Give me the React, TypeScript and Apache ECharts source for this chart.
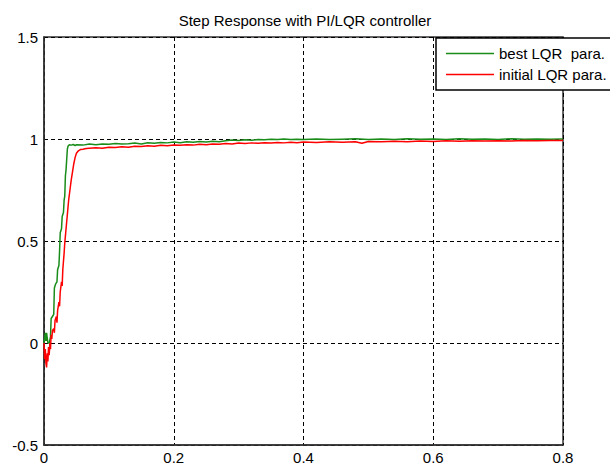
import React, { useEffect, useRef } from "react";
import * as echarts from "echarts";

const titleText = "Step Response with PI/LQR controller";
const seriesNames = ["best LQR  para.", "initial LQR para."];
const xTicks = { min: 0, max: 0.8, interval: 0.2 };
const yTicks = { min: -0.5, max: 1.5, interval: 0.5 };

// best LQR parameters (green): [time, output]
const bestLQR: [number, number][] = [
  [0, 0], [0.001, 0.0], [0.002, 0.05], [0.003, 0.01], [0.004, 0.05], [0.006, 0.0],
  [0.008, 0.0], [0.01, 0.03], [0.011, 0.12], [0.013, 0.13], [0.015, 0.14],
  [0.016, 0.27], [0.018, 0.29], [0.02, 0.3], [0.021, 0.36], [0.023, 0.38],
  [0.024, 0.45], [0.025, 0.54], [0.027, 0.56], [0.028, 0.62], [0.03, 0.64],
  [0.031, 0.7], [0.032, 0.72], [0.033, 0.82], [0.034, 0.85], [0.035, 0.9],
  [0.036, 0.95], [0.037, 0.965], [0.039, 0.972], [0.042, 0.97], [0.045, 0.973],
  [0.048, 0.968], [0.05, 0.972], [0.06, 0.97], [0.07, 0.975], [0.08, 0.972],
  [0.09, 0.976], [0.1, 0.974], [0.11, 0.978], [0.12, 0.975], [0.13, 0.977],
  [0.14, 0.98], [0.15, 0.976], [0.16, 0.982], [0.17, 0.979], [0.18, 0.983],
  [0.19, 0.981], [0.2, 0.985], [0.21, 0.982], [0.22, 0.986], [0.23, 0.984],
  [0.24, 0.988], [0.25, 0.985], [0.26, 0.989], [0.27, 0.987], [0.28, 0.991],
  [0.29, 0.995], [0.3, 0.993], [0.31, 0.996], [0.32, 0.994], [0.33, 0.998],
  [0.34, 0.996], [0.35, 0.999], [0.36, 0.997], [0.37, 1.0], [0.38, 0.997],
  [0.39, 0.999], [0.4, 0.998], [0.42, 1.0], [0.44, 0.997], [0.46, 0.999],
  [0.48, 1.001], [0.5, 0.998], [0.52, 1.0], [0.54, 0.998], [0.56, 1.001],
  [0.58, 0.999], [0.6, 1.0], [0.62, 0.998], [0.64, 1.001], [0.66, 0.999],
  [0.68, 1.0], [0.7, 0.998], [0.72, 1.001], [0.74, 0.999], [0.76, 1.0],
  [0.78, 0.999], [0.8, 1.0],
];

// initial LQR parameters (red): [time, output]
const initialLQR: [number, number][] = [
  [0, 0], [0.001, -0.08], [0.002, -0.03], [0.003, -0.1], [0.004, -0.12],
  [0.005, -0.05], [0.006, -0.09], [0.007, -0.02], [0.008, -0.06], [0.009, 0.0],
  [0.01, -0.03], [0.011, 0.04], [0.012, 0.02], [0.013, 0.06], [0.015, 0.07],
  [0.016, 0.05], [0.017, 0.11], [0.019, 0.13], [0.02, 0.1], [0.021, 0.16],
  [0.023, 0.2], [0.024, 0.18], [0.025, 0.25], [0.027, 0.3], [0.028, 0.28],
  [0.029, 0.36], [0.031, 0.44], [0.032, 0.49], [0.034, 0.56], [0.036, 0.63],
  [0.038, 0.7], [0.04, 0.75], [0.042, 0.8], [0.044, 0.84], [0.046, 0.88],
  [0.048, 0.91], [0.05, 0.93], [0.053, 0.942], [0.056, 0.948], [0.06, 0.95],
  [0.065, 0.953], [0.07, 0.955], [0.08, 0.957], [0.09, 0.955], [0.1, 0.96],
  [0.11, 0.958], [0.12, 0.962], [0.13, 0.96], [0.14, 0.965], [0.15, 0.963],
  [0.16, 0.967], [0.17, 0.965], [0.18, 0.969], [0.19, 0.967], [0.2, 0.971],
  [0.21, 0.969], [0.22, 0.972], [0.23, 0.97], [0.24, 0.974], [0.25, 0.972],
  [0.26, 0.976], [0.27, 0.974], [0.28, 0.978], [0.29, 0.976], [0.3, 0.98],
  [0.31, 0.978], [0.32, 0.981], [0.33, 0.979], [0.34, 0.982], [0.35, 0.98],
  [0.36, 0.983], [0.37, 0.981], [0.38, 0.984], [0.39, 0.982], [0.4, 0.985],
  [0.42, 0.983], [0.44, 0.986], [0.46, 0.984], [0.48, 0.987], [0.49, 0.979],
  [0.5, 0.988], [0.52, 0.986], [0.54, 0.989], [0.56, 0.987], [0.58, 0.99],
  [0.6, 0.988], [0.62, 0.991], [0.64, 0.989], [0.66, 0.992], [0.68, 0.99],
  [0.7, 0.992], [0.72, 0.99], [0.74, 0.993], [0.76, 0.991], [0.78, 0.993],
  [0.8, 0.993],
];

const FONT = "'Liberation Sans', Arial, sans-serif";

export default function App() {
  const ref = useRef<HTMLDivElement>(null);
  useEffect(() => {
    document.body.style.margin = "0";
    const chart = echarts.init(ref.current!, null, { renderer: "svg" });
    const dashed = { show: true, lineStyle: { color: "#000", type: [4, 3] as any, width: 1 } };
    chart.setOption({
      animation: false,
      backgroundColor: "#fff",
      title: {
        text: titleText,
        left: "center",
        top: 8,
        textStyle: { fontFamily: FONT, fontSize: 15, fontWeight: "normal", color: "#000" },
      },
      grid: {
        left: 44, top: 37, width: 519, height: 408,
        show: true, borderColor: "#333", borderWidth: 1.5, backgroundColor: "#fff",
      },
      legend: {
        data: seriesNames,
        orient: "vertical",
        left: 436,
        top: 38,
        padding: [8, 20, 8, 10],
        itemGap: 6,
        itemWidth: 48,
        itemHeight: 1.5,
        icon: "rect",
        backgroundColor: "#fff",
        borderColor: "#000",
        borderWidth: 1.5,
        textStyle: { fontFamily: FONT, fontSize: 15, lineHeight: 14, color: "#000" },
      },
      xAxis: {
        type: "value",
        min: xTicks.min, max: xTicks.max, interval: xTicks.interval,
        axisLine: { show: true, onZero: false, lineStyle: { color: "#333", width: 1.5 } },
        axisTick: { show: false },
        axisLabel: { color: "#000", fontFamily: FONT, fontSize: 15, margin: 5 },
        splitLine: dashed,
      },
      yAxis: {
        type: "value",
        min: yTicks.min, max: yTicks.max, interval: yTicks.interval,
        axisLine: { show: true, onZero: false, lineStyle: { color: "#333", width: 1.5 } },
        axisTick: { show: false },
        axisLabel: { color: "#000", fontFamily: FONT, fontSize: 15, margin: 6 },
        splitLine: dashed,
      },
      series: [
        {
          name: seriesNames[0], type: "line", data: bestLQR,
          showSymbol: false, symbol: "none",
          lineStyle: { color: "#1a8c1a", width: 1.5 }, itemStyle: { color: "#1a8c1a" },
        },
        {
          name: seriesNames[1], type: "line", data: initialLQR,
          showSymbol: false, symbol: "none",
          lineStyle: { color: "#ff0000", width: 1.5 }, itemStyle: { color: "#ff0000" },
        },
      ],
    });
    return () => chart.dispose();
  }, []);
  return <div ref={ref} style={{ width: 610, height: 467 }} />;
}
